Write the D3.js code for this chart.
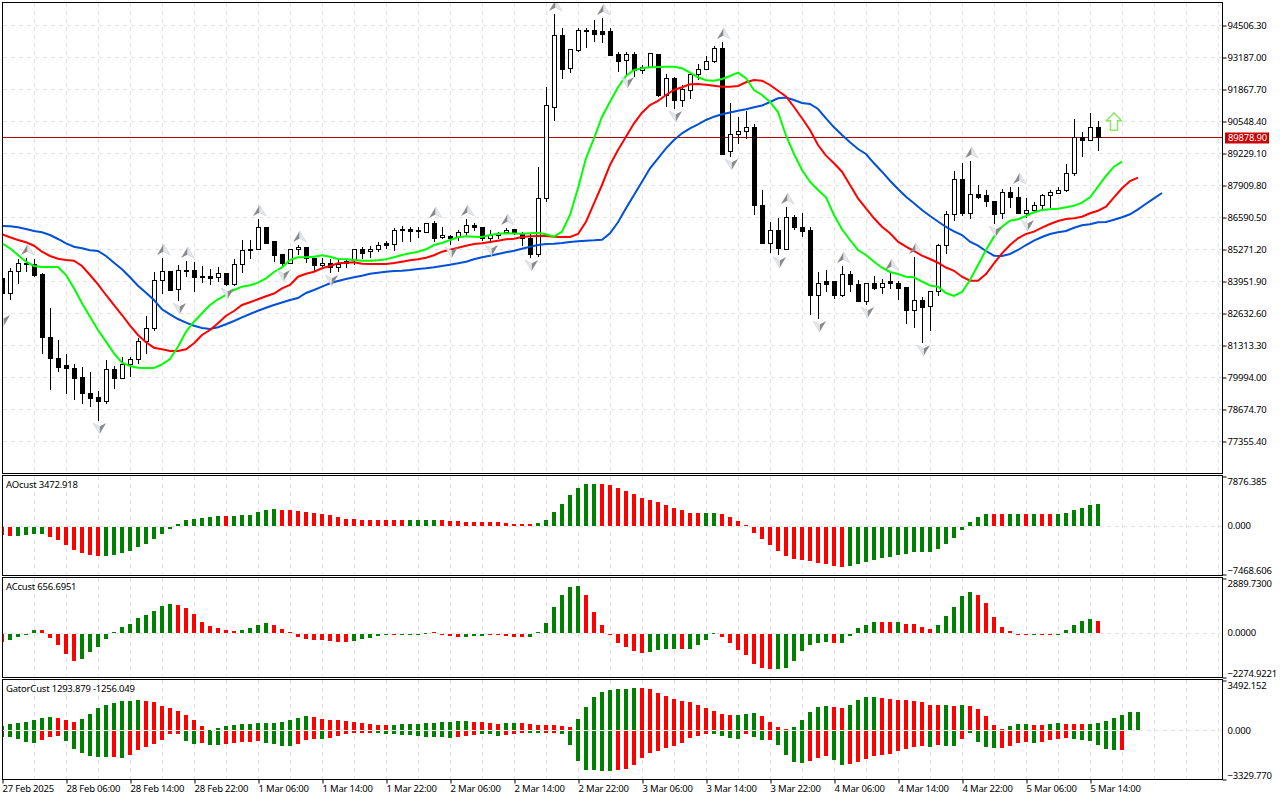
<!DOCTYPE html>
<html>
<head>
<meta charset="utf-8">
<title>BTCUSD H1</title>
<script src="https://cdn.jsdelivr.net/npm/d3@7"></script>
<style>
html, body { margin: 0; padding: 0; background: #fff; }
svg { display: block; }
text { font-family: "Noto Sans", sans-serif; font-size: 9.5px; letter-spacing: -0.2px; fill: #000; }
.domain { display: none; }
</style>
</head>
<body>
<svg id="chart" width="1280" height="800"></svg>
<script>
// candles, one per hour
var opens = [84075,83457,84323,84694,84612,84240,81602,80777,80448,80365,79953,79334,79169,78964,80283,79912,80489,80736,81478,82014,83952,84323,83581,84405,84405,84158,84158,84116,84281,83787,84612,85189,85271,86137,85560,85024,84694,85230,85353,84859,84571,84694,84488,84736,84777,85230,85148,85271,85518,85477,86055,86055,86014,85931,86302,85725,85766,85725,85931,86220,86178,85684,85808,85931,86055,85849,85684,85024,87333,91125,94053,92733,93435,94238,94259,94218,94218,93270,93063,93270,92651,92774,93270,91580,92321,91414,91786,92445,92692,92981,93517,89271,90012,90095,90260,87085,85518,86014,85271,86590,86178,86014,83334,83911,83911,83334,84240,83828,83127,83869,83704,83911,83869,83704,82756,83168,82921,83499,85395,86714,88157,86755,87498,87457,87250,86755,87580,87415,86755,86879,87085,87457,87539,87663,88404,89888,89765,90301];
var highs = [84488,84488,84859,84900,84859,84281,82838,81519,80942,80530,80406,80201,79417,80695,80448,80818,80818,81602,82509,84323,84900,84364,84612,84777,84736,84571,84447,84529,84281,84859,85642,85642,86508,86178,85601,85024,85271,85436,85353,84859,84900,84859,84818,84859,85230,85353,85395,85560,85601,86137,86220,86178,86178,86302,86426,86178,85849,86055,86508,86343,86178,86055,85973,86137,86055,85973,85931,88652,91950,94960,94382,93517,94382,94382,94712,94795,94382,93394,93394,93394,92857,93311,93270,92486,92362,92033,92486,92898,93229,93641,93806,91290,90713,90961,90425,87704,86384,86549,86998,86673,86755,86178,84323,84405,83952,84571,84364,83993,83869,84158,84034,84281,83952,83704,84941,83292,83499,85477,86838,88487,88817,88900,87910,87704,87250,87745,87828,87828,87374,87209,87539,87704,87828,88776,90631,90095,90878,90549];
var lows = [82632,83168,83828,84323,84116,80942,79458,80201,79293,79046,78881,78757,78180,78881,79499,79912,79994,80530,80942,81891,83416,83540,83127,84116,83499,83869,83787,83911,83746,83746,84281,84859,85271,85477,84736,84488,84694,85024,84694,84364,84488,84281,84323,84488,84612,84859,84900,85148,85271,85189,85560,85560,85725,85931,85560,85684,85436,85601,85849,86014,85601,85518,85684,85890,85849,85395,84900,84941,87209,90549,92280,92527,93394,93558,93806,93764,93229,92569,92445,92362,92486,92774,91538,91125,91043,91125,91456,92239,92651,92940,89147,89064,89600,89806,86673,85518,85106,85024,85271,86055,85766,82550,82385,83499,83210,83292,83499,83086,82962,83581,83416,83622,83168,82179,82014,81395,81891,83334,85065,86426,86632,86508,87333,86998,86302,86508,86961,86714,86549,86838,86920,86961,87539,87622,88281,89064,89724,89312];
var closes = [83457,84364,84694,84612,84199,81602,80777,80406,80324,79912,79334,79128,78964,80283,79912,80489,80736,81478,82014,83952,84323,83540,84405,84364,84116,84116,84075,84281,83787,84612,85189,85271,86137,85518,84983,84653,85271,85353,84900,84571,84694,84529,84612,84653,85230,85106,85271,85436,85436,86014,86014,85973,85973,86302,85684,85808,85684,85931,86220,86137,85684,85808,85890,86014,85931,85684,85024,87333,91167,94053,92692,93476,94300,94259,94135,94135,93229,92981,93270,92651,92774,93311,91580,92321,91414,91827,92486,92692,92981,93517,89147,90012,90095,90260,87085,85518,86014,85312,86590,86137,85973,83334,83869,83828,83334,84240,83787,83127,83869,83663,83869,83869,83663,82756,83168,82879,83499,85395,86714,88157,86755,87498,87415,87209,86714,87580,87374,86755,86879,87085,87457,87580,87663,88404,89888,89724,90301,89878.9];

// alligator lines, the jaw and teeth run past the last bar
var jaw = [86220,86208,86166,86096,86014,85960,85849,85684,85506,85366,85300,85218,85189,84983,84705,84434,84105,83758,83470,83168,82785,82579,82385,82233,82109,82014,81973,82043,82167,82303,82455,82591,82727,82851,82962,83065,83168,83251,83457,83581,83717,83857,83952,84034,84105,84171,84253,84294,84335,84364,84376,84405,84447,84475,84516,84571,84624,84682,84748,84847,84930,84996,85065,85135,85201,85284,85366,85436,85477,85489,85518,85560,85589,85613,85630,85655,85919,86372,86949,87498,88046,88598,89011,89423,89765,90041,90247,90412,90590,90726,90825,90899,90973,91031,91113,91187,91332,91484,91517,91414,91290,91249,91043,90660,90289,89971,89670,89394,89188,88804,88458,88087,87745,87427,87155,86879,86632,86405,86178,86001,85849,85572,85407,85189,84996,84983,85065,85230,85436,85613,85766,85890,85960,86014,86149,86248,86289,86372,86384,86479,86578,86702,86908,87139,87361,87580];
var teeth = [85877,85754,85642,85548,85407,85160,84983,84871,84818,84789,84571,84199,83816,83375,82962,82550,82109,81726,81424,81202,81136,81066,81066,81136,81383,81726,81932,82208,82521,82715,82962,83074,83197,83321,83436,83651,83787,84129,84253,84335,84475,84571,84682,84705,84723,84665,84653,84653,84653,84694,84748,84805,84847,84913,85012,85160,85242,85325,85407,85477,85506,85560,85613,85671,85696,85766,85795,85808,85808,85779,85766,85766,85890,86397,87155,87910,88735,89353,89901,90454,90890,91208,91373,91620,91827,91938,92061,92074,92045,92004,91963,91963,91991,92144,92239,92210,92033,91798,91558,91125,90660,90177,89559,89118,88804,88458,87910,87361,86949,86537,86191,85919,85572,85366,85189,84996,84859,84705,84509,84372,84129,83964,83964,84240,84682,85094,85436,85712,85890,85985,86149,86302,86426,86508,86537,86603,86743,86850,87015,87403,87774,88074,88211];
var lips = [85506,85300,85024,84748,84571,84529,84529,84529,84199,83651,83033,82480,81932,81450,80971,80584,80448,80378,80365,80365,80518,80736,81243,81861,82274,82620,82962,83197,83375,83581,83717,83775,83882,84063,84323,84516,84818,84930,84930,84954,85012,84954,84859,84847,84818,84789,84789,84805,84847,84930,85024,85094,85160,85259,85436,85518,85642,85754,85795,85779,85766,85849,85902,85919,85910,85902,85919,85931,85877,85779,85985,86673,87774,89011,89835,90726,91344,91938,92404,92651,92721,92762,92775,92787,92787,92721,92540,92350,92226,92210,92280,92404,92540,92309,91827,91620,91332,90919,89950,89188,88528,88046,87704,87403,86673,86083,85642,85230,85024,84748,84500,84323,84240,84129,84105,83923,83767,83717,83457,83334,83499,83993,84612,85230,85779,86191,86438,86496,86632,86784,86879,86908,86933,86990,87056,87180,87403,87840,88281,88664,88870];

// bars carrying a fractal arrow
var fractalUp = [3,20,23,32,37,54,58,63,69,75,90,98,105,111,114,121,127];
var fractalDown = [0,12,22,28,35,41,56,61,66,78,84,91,97,102,108,115,124,128];

var aoValues = [-1253,-1409,-1409,-1253,-1096,-1096,-1566,-2036,-2819,-3602,-4072,-4385,-4541,-4541,-4385,-4072,-3758,-3132,-2662,-1879,-1096,-313,313,940,1096,1253,1409,1566,1566,1566,1723,1827,2192,2506,2662,2506,2506,2349,2192,2036,1879,1723,1409,1096,1096,940,940,940,940,940,940,940,940,940,940,940,783,783,626,626,626,626,626,470,313,313,313,470,940,2192,3445,4855,5951,6577,6577,6577,6421,5951,5481,5011,4385,4072,3758,3289,2819,2506,2036,2036,2036,2036,1879,1409,783,157,-940,-1879,-2819,-3758,-4541,-5011,-5168,-5324,-5638,-5794,-6107,-6264,-6107,-5794,-5481,-5168,-4855,-4698,-4385,-4228,-3915,-3915,-3915,-3445,-2662,-1723,-470,626,1409,1879,1879,1879,1879,1879,1879,1879,1879,1879,1879,2036,2506,2819,3289,3472.918];
var aoRuns = [2,4,7,15,1,6,16,4,12,8,13,2,16,18,2,2,1,1,2,6]; // down first
var acValues = [-400,-296,-139,-35,174,174,-191,-556,-1026,-1391,-1287,-922,-661,-243,52,330,487,800,956,1165,1426,1530,1478,1322,1009,591,383,278,174,122,174,278,435,539,435,226,70,-139,-243,-296,-296,-348,-400,-400,-348,-243,-191,-87,-35,-17,-35,-35,-10,35,52,-10,-87,-139,-139,-87,-87,-17,-35,-87,-139,-139,-139,52,539,1374,2000,2417,2469,2000,1113,435,-10,-452,-661,-870,-974,-922,-817,-765,-765,-765,-765,-556,-296,17,-139,-452,-817,-1078,-1548,-1756,-1809,-1809,-1756,-1391,-870,-556,-452,-400,-452,-452,-87,278,435,591,591,591,591,487,487,330,226,435,904,1374,1948,2156,2000,1582,852,330,122,-17,-35,-35,-17,-35,-35,174,435,643,748,656.6951];
var acRuns = [1,4,5,12,8,4,10,5,1,4,4,3,5,7,8,4,1,4,7,7,1,5,2,1,4,5,7,1,2,5,1]; // down first
var gatorUpper = [299,436,505,574,712,850,919,850,712,574,781,1126,1539,1746,1884,2021,2021,2090,2021,1952,1677,1539,1332,1057,712,299,23,161,299,368,436,436,505,505,505,574,712,850,988,919,781,712,712,643,574,505,436,368,368,368,436,436,436,505,505,574,574,643,643,574,574,505,436,505,505,505,436,368,368,368,299,230,781,1608,2297,2642,2779,2848,2848,2917,2917,2848,2573,2366,2159,2021,1952,1746,1539,1332,1126,1057,1057,1126,1194,988,574,230,92,230,712,1263,1608,1677,1608,1539,1746,2090,2297,2297,2228,2159,2090,2090,2021,1952,1746,1746,1746,1677,1746,1677,1470,988,368,92,299,436,436,368,368,436,505,436,436,436,436,505,643,850,1057,1263,1293.879];
var gatorUpperRuns = [7,3,8,8,13,10,10,4,2,7,8,12,3,4,5,2,4,8,1,1,1,5,3,2,2,3,7]; // up first
var gatorLower = [-390,-390,-528,-735,-804,-597,-390,-322,-666,-1217,-1493,-1700,-1769,-1769,-1769,-1838,-1631,-1286,-1080,-873,-597,-184,-184,-666,-873,-804,-942,-942,-873,-804,-735,-735,-666,-804,-873,-1011,-1011,-873,-597,-528,-528,-459,-322,-184,-115,-115,-115,-115,-184,-184,-253,-253,-322,-390,-390,-390,-459,-390,-322,-253,-184,-184,-322,-253,-184,-115,-115,-69,-69,-69,-184,-942,-2044,-2664,-2664,-2733,-2733,-2664,-2596,-2320,-1838,-1493,-1355,-1149,-1011,-804,-459,-322,-184,-184,-322,-459,-528,-184,-390,-597,-597,-942,-1631,-2113,-2182,-2044,-1838,-1700,-1975,-2320,-2251,-2113,-1906,-1700,-1631,-1562,-1355,-1217,-1080,-1011,-1080,-942,-1011,-1011,-528,-69,-735,-1080,-1149,-1149,-1011,-804,-735,-804,-735,-597,-528,-459,-528,-597,-666,-942,-1217,-1286,-1256.049];
var gatorLowerRuns = [5,3,6,1,1,7,2,1,2,5,4,3,1,6,10,3,3,3,2,2,7,12,4,1,2,1,4,3,2,10,1,1,2,1,4,4,1,4,6,1]; // up first

var priceTicks = [94506.30,93187.00,91867.70,90548.40,89229.10,87909.80,86590.50,85271.20,83951.90,82632.60,81313.30,79994.00,78674.70,77355.40];
var lastPrice = 89878.90;
var signalBar = 139, signalPrice = 90515;
var timeTicks = [0,8,16,24,32,40,48,56,64,72,80,88,96,104,112,120,128,136];
var timeLabels = ['27 Feb 2025','28 Feb 06:00','28 Feb 14:00','28 Feb 22:00','1 Mar 06:00','1 Mar 14:00','1 Mar 22:00','2 Mar 06:00','2 Mar 14:00','2 Mar 22:00','3 Mar 06:00','3 Mar 14:00','3 Mar 22:00','4 Mar 06:00','4 Mar 14:00','4 Mar 22:00','5 Mar 06:00','5 Mar 14:00'];

var LEFT = 2, RIGHT = 1222;
var UP = '#008000', DOWN = '#ff0000', GRID = '#e4e4e4';

var svg = d3.select('#chart');
var xScale = d3.scaleLinear().domain([0, 137]).range([2, 1098]);
var yMain = d3.scaleLinear().domain([77355.40, 94506.30]).range([441, 25]);

// grid every 4 bars
var gridBars = d3.range(4, 156, 4);

var drawPanel = function (id, top, bottom) {
    var g = svg.append('g').attr('class', 'panel');
    svg.append('clipPath').attr('id', id)
        .append('rect')
        .attr('x', LEFT + 1).attr('y', top + 1)
        .attr('width', RIGHT - LEFT - 1).attr('height', bottom - top - 1);
    g.selectAll('.vgrid')
        .data(gridBars)
        .join('line')
        .attr('class', 'vgrid')
        .attr('x1', function (d) { return xScale(d) + 0.5; })
        .attr('x2', function (d) { return xScale(d) + 0.5; })
        .attr('y1', top + 1)
        .attr('y2', bottom)
        .style('stroke', GRID)
        .style('stroke-dasharray', '4,4');
    return g;
};

var drawBorder = function (top, bottom) {
    svg.append('rect')
        .attr('x', LEFT + 0.5).attr('y', top + 0.5)
        .attr('width', RIGHT - LEFT).attr('height', bottom - top)
        .style('fill', 'none')
        .style('stroke', '#000');
};

// main panel
var mainG = drawPanel('clipMain', 2, 473);
mainG.selectAll('.hgrid')
    .data(priceTicks)
    .join('line')
    .attr('class', 'hgrid')
    .attr('x1', LEFT + 1).attr('x2', RIGHT)
    .attr('y1', function (d) { return Math.round(yMain(d)) + 0.5; })
    .attr('y2', function (d) { return Math.round(yMain(d)) + 0.5; })
    .style('stroke', GRID)
    .style('stroke-dasharray', '4,4');

var inner = svg.append('g').attr('clip-path', 'url(#clipMain)');

inner.append('line')
    .attr('x1', LEFT + 1).attr('x2', RIGHT)
    .attr('y1', Math.round(yMain(lastPrice)) + 0.5)
    .attr('y2', Math.round(yMain(lastPrice)) + 0.5)
    .style('stroke', '#b00000');

var candles = inner.append('g').style('shape-rendering', 'crispEdges');
candles.selectAll('.wick')
    .data(opens)
    .join('line')
    .attr('class', 'wick')
    .attr('x1', function (d, i) { return xScale(i) + 0.5; })
    .attr('x2', function (d, i) { return xScale(i) + 0.5; })
    .attr('y1', function (d, i) { return yMain(highs[i]); })
    .attr('y2', function (d, i) { return yMain(lows[i]); })
    .style('stroke', '#000');
candles.selectAll('.body')
    .data(opens)
    .join('rect')
    .attr('class', 'body')
    .attr('x', function (d, i) { return xScale(i) - 1.5; })
    .attr('width', 4)
    .attr('y', function (d, i) { return yMain(Math.max(d, closes[i])); })
    .attr('height', function (d, i) { return Math.abs(yMain(d) - yMain(closes[i])); })
    .style('fill', function (d, i) { return closes[i] > d ? '#fff' : '#000'; })
    .style('stroke', '#000');

var lineGen = d3.line()
    .x(function (d, i) { return xScale(i); })
    .y(function (d) { return yMain(d); });

[[jaw, '#0050d8'], [teeth, '#ff0000'], [lips, '#00ff00']].forEach(function (s) {
    inner.append('path')
        .attr('d', lineGen(s[0]))
        .style('fill', 'none')
        .style('stroke', s[1])
        .style('stroke-width', 2);
});

// fractal arrows, grey on the left wing and pale on the right
var drawFractal = function (bar, price, dy, rot) {
    var g = inner.append('g')
        .attr('transform', 'translate(' + xScale(bar) + ',' + (yMain(price) + dy) + ') rotate(' + rot + ')');
    g.append('path').attr('d', 'M0,-6L-6.5,5L0,1.5Z').style('fill', '#8a8a8a');
    g.append('path').attr('d', 'M0,-6L6.5,5L0,1.5Z')
        .style('fill', '#e6e6e6')
        .style('stroke', '#c4d0dc')
        .style('stroke-width', 0.6);
};
fractalUp.forEach(function (b) { drawFractal(b + 0.2, highs[b], -8, 0); });
fractalDown.forEach(function (b) { drawFractal(b + 0.2, lows[b], 7, 180); });

// buy signal
inner.append('path')
    .attr('transform', 'translate(' + xScale(signalBar) + ',' + yMain(signalPrice) + ')')
    .attr('d', 'M0,-9L7.5,-1L3.5,-1L3.5,8.5L-3.5,8.5L-3.5,-1L-7.5,-1Z')
    .style('fill', '#fff')
    .style('stroke', '#86e868')
    .style('stroke-width', 1.5);

drawBorder(2, 473);

var priceAxis = d3.axisRight(yMain)
    .tickValues(priceTicks)
    .tickSize(4)
    .tickPadding(1)
    .tickFormat(d3.format('.2f'));
svg.append('g')
    .attr('transform', 'translate(' + (RIGHT + 0.5) + ',0.5)')
    .call(priceAxis);

svg.append('rect')
    .attr('x', 1225).attr('y', Math.round(yMain(lastPrice)) - 4.5)
    .attr('width', 44).attr('height', 11)
    .style('fill', '#c80000');
svg.append('text')
    .attr('x', 1228)
    .attr('y', Math.round(yMain(lastPrice)) + 4)
    .style('fill', '#fff')
    .text(d3.format('.2f')(lastPrice));

var expandRuns = function (runs, firstUp) {
    var out = [], up = firstUp;
    runs.forEach(function (n) {
        d3.range(n).forEach(function () { out.push(up); });
        up = !up;
    });
    return out;
};

// one histogram panel: series is a list of [values, up/down flags]
var drawHist = function (id, top, bottom, scale, series, fmt, title) {
    drawPanel(id, top, bottom);
    var g = svg.append('g').attr('clip-path', 'url(#' + id + ')').style('shape-rendering', 'crispEdges');
    var zero = Math.floor(scale(0));
    series.forEach(function (s) {
        g.append('g').selectAll('rect')
            .data(s[0])
            .join('rect')
            .attr('x', function (d, i) { return xScale(i) - 2; })
            .attr('width', 4)
            .attr('y', function (d) { return d > 0 ? scale(d) : zero + 1; })
            .attr('height', function (d) { return Math.max(Math.abs(scale(d) - zero), 1); })
            .style('fill', function (d, i) { return s[1][i] ? UP : DOWN; });
    });
    g.append('line')
        .attr('x1', LEFT + 1).attr('x2', RIGHT)
        .attr('y1', zero + 0.5).attr('y2', zero + 0.5)
        .style('stroke', GRID)
        .style('stroke-dasharray', '4,4');
    drawBorder(top, bottom);

    var domain = scale.domain();
    var axis = d3.axisRight(scale)
        .tickValues([domain[1], 0, domain[0]])
        .tickSize(4)
        .tickPadding(1)
        .tickFormat(fmt);
    var ax = svg.append('g')
        .attr('transform', 'translate(' + (RIGHT + 0.5) + ',0.5)')
        .call(axis);
    ax.selectAll('.tick').select('text')
        .attr('dy', function (d) { return d === domain[1] ? '0.85em' : (d === domain[0] ? '-0.15em' : '0.2em'); });
    ax.selectAll('.tick').filter(function (d) { return d === 0; }).select('line').remove();

    svg.append('text')
        .attr('x', 6)
        .attr('y', top + 13)
        .text(title);
};

var yAO = d3.scaleLinear().domain([-7468.606, 7876.385]).range([574, 476]);
var yAC = d3.scaleLinear().domain([-2274.9221, 2889.7300]).range([677, 578]);
var yGator = d3.scaleLinear().domain([-3329.770, 3492.152]).range([779, 680]);

drawHist('clipAO', 475, 575, yAO, [[aoValues, expandRuns(aoRuns, false)]], d3.format('.3f'), 'AOcust 3472.918');
drawHist('clipAC', 577, 677, yAC, [[acValues, expandRuns(acRuns, false)]], d3.format('.4f'), 'ACcust 656.6951');
drawHist('clipGator', 679, 779, yGator,
    [[gatorUpper, expandRuns(gatorUpperRuns, true)], [gatorLower, expandRuns(gatorLowerRuns, true)]],
    d3.format('.3f'), 'GatorCust 1293.879 -1256.049');

// time axis under the last panel
var timeAxis = d3.axisBottom(xScale)
    .tickValues(timeTicks)
    .tickSize(4)
    .tickPadding(2)
    .tickFormat(function (d, i) { return timeLabels[i]; });
svg.append('g')
    .attr('transform', 'translate(0.5,779.5)')
    .call(timeAxis)
    .selectAll('text')
    .style('text-anchor', 'start')
    .attr('x', -0.5);
</script>
</body>
</html>
